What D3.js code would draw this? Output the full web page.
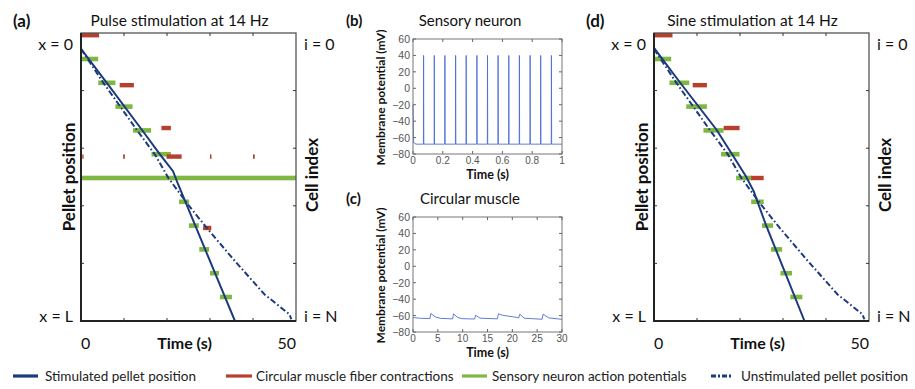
<!DOCTYPE html>
<html><head><meta charset="utf-8">
<script src="https://cdn.jsdelivr.net/npm/d3@7"></script>
<style>body{margin:0;background:#fff}</style>
</head><body><svg id="c" width="915" height="389"></svg>
<script>
// ---------------- data ----------------
// panel (a) pulse stimulation, [time s, position x/L]
const pulseStimulated = [[0,0.055],[6,0.173],[14.1,0.335],[18.4,0.422],[21.4,0.48],[22.6,0.526],[35.8,1.0]];
// panel (d) sine stimulation
const sineStimulated = [[0,0.052],[6,0.171],[14.5,0.335],[18.2,0.422],[21.4,0.498],[23.2,0.55],[26,0.665],[35,1.0]];
// unstimulated pellet (both panels)
const unstimulated = [[0,0.055],[5.2,0.173],[12.9,0.335],[17.2,0.422],[20.3,0.503],[24.9,0.596],[29.2,0.676],[35.8,0.792],[42.7,0.908],[48.5,0.977],[48.9,0.994]];
// sensory neuron action potentials: [cell row, t start, t end]
const pulseSensory = [[1,0,4],[2,4,8],[3,8,12],[4,12.1,16.3],[5,16.4,20.9],[6,0,50],[7,22.8,25.1],[8,25.1,27.4],[9,27.5,29.8],[10,30,32.1],[11,32.3,35.1]];
const pulseMuscle = [[0,0,4.2],[2.1,9,12.3],[3.9,18.7,20.9],[5.1,19.9,23.4],[5.1,0.3,0.6],[5.1,9.8,10.2],[5.1,30,30.35],[5.1,40,40.4],[8.1,28.4,30.3]];
const sineSensory = [[1,0,4],[2,3.6,8.2],[3,7.5,12.3],[4,11.5,16.2],[5,15.6,19.9],[6,19.1,22.8],[7,22.6,25.5],[8,25.1,27.7],[9,27.2,29.8],[10,29.4,32.1],[11,31.7,34.5]];
const sineMuscle = [[0,0,4.3],[2.1,9,12.3],[3.9,16.2,19.9],[6,22.6,25.5]];
// panel (b) sensory neuron: spike times (s), peak and resting potential (mV)
const spikeTimes = [0.071,0.143,0.214,0.286,0.357,0.429,0.5,0.571,0.643,0.714,0.786,0.857,0.929];
const spikePeak = 40, restPotential = -68, initialPotential = -20;
// panel (c) circular muscle trace [t s, mV]
const muscleTrace = [[0,-62.4],[1.5,-63.3],[3.4,-63.6],[3.6,-57.5],[4.5,-61.6],[5.5,-63.4],[8.0,-64.0],[8.15,-57.8],[9.0,-62.4],[10,-63.8],[12.4,-64.2],[12.6,-59.6],[13.5,-63.2],[17.0,-64.0],[17.2,-57.8],[18,-59.6],[20.2,-61.6],[21.3,-62.6],[21.5,-58.3],[22.4,-63.2],[26.0,-64.5],[26.2,-58.3],[27.3,-62.8],[30,-64.6]];
// ticks
const trackTimeTicks = [10,20,30,40];
const trackPosTicks = [0.2,0.4,0.6,0.8];
const mvTicks = [-80,-60,-40,-20,0,20,40,60];
const bTimeTicks = [0,0.2,0.4,0.6,0.8,1];
const cTimeTicks = [0,5,10,15,20,25,30];
const legendItems = ["Stimulated pellet position","Circular muscle fiber contractions","Sensory neuron action potentials","Unstimulated pellet position"];

// ---------------- styles ----------------
const NAVY = "#1d3a7c", RED = "#b6402c", GREEN = "#7fb743", TRACE = "#4e6fd3";
const FONT = "Lato, 'Open Sans', sans-serif";
const svg = d3.select("#c");
svg.append("rect").attr("width",915).attr("height",389).attr("fill","#fff");

function txt(g, x, y, s, o) {
  o = o || {};
  const t = g.append("text").attr("x", x).attr("y", y).text(s)
    .attr("font-family", o.family || FONT).attr("font-size", o.size || 16)
    .attr("font-weight", o.bold ? "bold" : "normal")
    .attr("fill", o.fill || "#111")
    .attr("text-anchor", o.anchor || "middle")
    .attr("dominant-baseline", "central");
  if (o.rotate) t.attr("transform", `rotate(-90,${x},${y})`);
  return t;
}

function track(x0, x1, letter, title, stim, sensory, muscle) {
  const g = svg.append("g");
  const top = 33, bot = 321;
  const x = d3.scaleLinear([0,50],[x0,x1]);
  const pos = d3.scaleLinear([0,1],[top,bot]);
  const cell = d3.scaleLinear([0,12],[35.2,320.8]);
  const clipId = "clip" + letter;
  g.append("clipPath").attr("id",clipId).append("rect").attr("x",x0).attr("y",top).attr("width",x1-x0).attr("height",bot-top);
  const pg = g.append("g").attr("clip-path",`url(#${clipId})`);
  pg.selectAll("rect.s").data(sensory).join("rect").attr("class","s")
    .attr("x", d => x(d[1])).attr("width", d => x(d[2]) - x(d[1]))
    .attr("y", d => cell(d[0]) - 2.3).attr("height", 4.6).attr("fill", GREEN);
  pg.selectAll("rect.m").data(muscle).join("rect").attr("class","m")
    .attr("x", d => x(d[1])).attr("width", d => Math.max(1.3, x(d[2]) - x(d[1])))
    .attr("y", d => cell(d[0]) - 2.2).attr("height", 4.4).attr("fill", RED);
  const line = d3.line().x(d => x(d[0])).y(d => pos(d[1]));
  pg.append("path").attr("d", line(unstimulated)).attr("fill","none").attr("stroke",NAVY)
    .attr("stroke-width",2).attr("stroke-dasharray","6,2.5,1.6,2.5");
  pg.append("path").attr("d", line(stim)).attr("fill","none").attr("stroke",NAVY).attr("stroke-width",2);
  // frame
  g.append("rect").attr("x",x0).attr("y",top).attr("width",x1-x0).attr("height",bot-top)
    .attr("fill","none").attr("stroke","#555").attr("stroke-width",1.3);
  g.append("path").attr("d",`M${x0},${top}V${bot}H${x1}`).attr("fill","none").attr("stroke","#222").attr("stroke-width",2);
  // ticks
  trackTimeTicks.forEach(t => {
    g.append("line").attr("x1",x(t)).attr("x2",x(t)).attr("y1",bot).attr("y2",bot-3).attr("stroke","#333");
    g.append("line").attr("x1",x(t)).attr("x2",x(t)).attr("y1",top).attr("y2",top+3).attr("stroke","#333");
  });
  trackPosTicks.forEach(p => {
    g.append("line").attr("x1",x0).attr("x2",x0+3).attr("y1",pos(p)).attr("y2",pos(p)).attr("stroke","#333");
    g.append("line").attr("x1",x1).attr("x2",x1-3).attr("y1",pos(p)).attr("y2",pos(p)).attr("stroke","#333");
  });
  // labels
  txt(g, x0-68, 20, "(" + letter + ")", {bold:true, size:17, anchor:"start"});
  txt(g, (x0+x1)/2 - 9, 20, title, {size:15.5});
  txt(g, x0-8, 43, "x = 0", {anchor:"end"});
  txt(g, x0-8, 315, "x = L", {anchor:"end"});
  txt(g, x1+8, 43, "i = 0", {anchor:"start"});
  txt(g, x1+8, 315, "i = N", {anchor:"start"});
  txt(g, x0-13, 177, "Pellet position", {bold:true, size:17, rotate:true});
  txt(g, x1+15, 175, "Cell index", {bold:true, size:17, rotate:true});
  txt(g, x(0), 342, "0", {anchor:"start"});
  txt(g, x(50), 342, "50", {anchor:"end"});
  txt(g, (x0+x1)/2 - 4, 342, "Time (s)", {bold:true, size:16});
}

track(81, 296, "a", "Pulse stimulation at 14 Hz", pulseStimulated, pulseSensory, pulseMuscle);
track(654, 869, "d", "Sine stimulation at 14 Hz", sineStimulated, sineSensory, sineMuscle);

const TICKFONT = "'Liberation Sans', Arial, sans-serif";
const fmt = v => (v < 0 ? "\u2212" + Math.abs(v) : String(v));
function trace(letter, title, top, bot, xDomain, xTicks, points, titleY) {
  const g = svg.append("g");
  const x0 = 413, x1 = 562;
  const x = d3.scaleLinear(xDomain,[x0,x1]);
  const y = d3.scaleLinear([-80,60],[bot,top]);
  g.append("path").attr("d", d3.line().x(d => x(d[0])).y(d => y(d[1]))(points))
    .attr("fill","none").attr("stroke",TRACE).attr("stroke-width",1).attr("stroke-opacity",0.9);
  g.append("rect").attr("x",x0).attr("y",top).attr("width",x1-x0).attr("height",bot-top)
    .attr("fill","none").attr("stroke","#777").attr("stroke-width",1);
  xTicks.forEach(t => {
    g.append("line").attr("x1",x(t)).attr("x2",x(t)).attr("y1",bot).attr("y2",bot-3).attr("stroke","#666");
    g.append("line").attr("x1",x(t)).attr("x2",x(t)).attr("y1",top).attr("y2",top+3).attr("stroke","#666");
    txt(g, x(t), bot + 6.5, String(t), {family:TICKFONT, size:10, fill:"#555"});
  });
  mvTicks.forEach(v => {
    g.append("line").attr("x1",x0).attr("x2",x0+3).attr("y1",y(v)).attr("y2",y(v)).attr("stroke","#666");
    g.append("line").attr("x1",x1).attr("x2",x1-3).attr("y1",y(v)).attr("y2",y(v)).attr("stroke","#666");
    txt(g, x0 - 3, y(v), fmt(v), {family:TICKFONT, size:10.5, fill:"#555", anchor:"end"});
  });
  txt(g, (x0+x1)/2, bot + 20, "Time (s)", {bold:true, size:12.5});
  txt(g, 380, (top+bot)/2 + 1, "Membrane potential (mV)", {bold:true, size:12, rotate:true});
  txt(g, 346, titleY, "(" + letter + ")", {bold:true, size:15, anchor:"start"});
  txt(g, 470, titleY, title, {size:15});
}

// sensory trace built from the read spike times
const sensoryTrace = [[0, initialPotential],[0.004, restPotential + 2],[0.02, restPotential]];
spikeTimes.forEach(t => { sensoryTrace.push([t - 0.001, restPotential],[t, spikePeak],[t + 0.0015, restPotential]); });
sensoryTrace.push([1, restPotential]);

trace("b", "Sensory neuron", 39, 154, [0,1], bTimeTicks, sensoryTrace, 20);
trace("c", "Circular muscle", 217, 332, [0,30], cTimeTicks, muscleTrace, 198);

// legend
const lg = svg.append("g");
const legendPos = [[13,38,45],[226,252,256],[462,487,492],[711,733,741]];
const legendStyle = [{c:NAVY,d:null},{c:RED,d:null},{c:GREEN,d:null},{c:NAVY,d:"5,2,2,2"}];
legendItems.forEach((s,i) => {
  const p = legendPos[i];
  lg.append("line").attr("x1",p[0]).attr("x2",p[1]).attr("y1",376).attr("y2",376)
    .attr("stroke",legendStyle[i].c).attr("stroke-width",3.2).attr("stroke-dasharray",legendStyle[i].d);
  txt(lg, p[2], 376, s, {size:13.5, anchor:"start", fill:"#222"});
});
</script></body></html>
